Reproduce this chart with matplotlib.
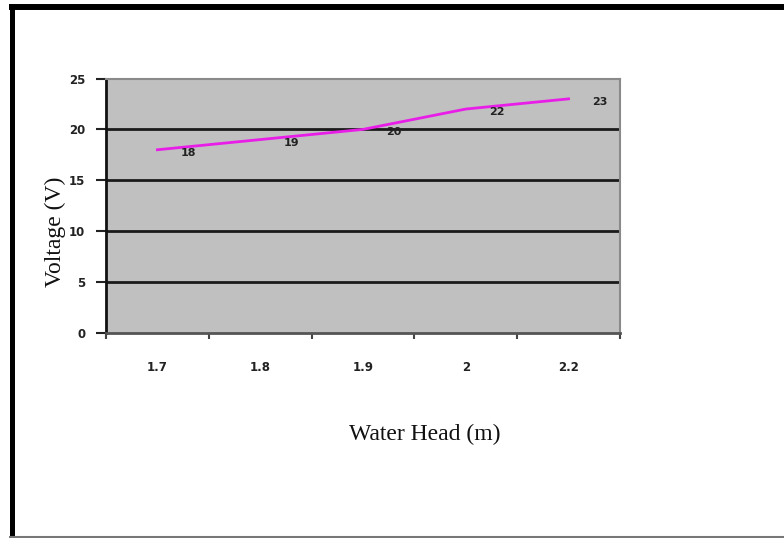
import numpy as np
import matplotlib
matplotlib.use("Agg")
import matplotlib.pyplot as plt
from matplotlib.lines import Line2D

# data
heads = ["1.7", "1.8", "1.9", "2", "2.2"]
voltage = [18, 19, 20, 22, 23]
y_ticks = [0, 5, 10, 15, 20, 25]

fig = plt.figure(figsize=(7.84, 5.38), dpi=100)
fig.patch.set_facecolor("white")

W, H = 784, 538
ax = fig.add_axes([106 / W, (H - 333) / H, (620 - 106) / W, (333 - 78.5) / H])
ax.set_facecolor("#c0c0c0")

x = np.arange(len(heads))
ax.plot(x, voltage, color="#e81ee8", linewidth=2, zorder=3)

for xi, v in zip(x, voltage):
    ax.annotate(str(v), (xi, v), xytext=(31, -3), textcoords="offset pixels",
                ha="center", va="center", fontsize=8, fontweight="bold",
                color="#222222", zorder=4)

ax.set_xlim(-0.5, len(heads) - 0.5)
ax.set_ylim(0, 25)

# category labels in the middle, tick marks on the boundaries
ax.set_xticks(x)
ax.set_xticklabels(heads, fontsize=8.5, fontweight="bold", color="#222222")
ax.tick_params(axis="x", which="major", length=0, pad=20)
ax.set_xticks(np.arange(-0.5, len(heads)), minor=True)
ax.tick_params(axis="x", which="minor", length=4, width=1.5, color="#444444", direction="out")

ax.set_yticks(y_ticks)
ax.set_yticklabels([str(t) for t in y_ticks], fontsize=8.5, fontweight="bold", color="#222222")
ax.tick_params(axis="y", length=7, width=1.5, color="#222222", pad=8)

for t in y_ticks[1:-1]:
    ax.axhline(t, color="#1a1a1a", linewidth=2, zorder=2)

for side in ["top", "right"]:
    ax.spines[side].set_color("#8a8a8a")
    ax.spines[side].set_linewidth(1.5)
ax.spines["left"].set_color("#111111")
ax.spines["left"].set_linewidth(2)
ax.spines["bottom"].set_color("#555555")
ax.spines["bottom"].set_linewidth(2)

fig.text(425 / W, 1 - 434 / H, "Water Head (m)", ha="center", va="center",
         fontsize=17, family="Liberation Serif", color="#111111")
fig.text(55 / W, 1 - 232 / H, "Voltage (V)", ha="center", va="center",
         rotation=90, fontsize=17, family="Liberation Serif", color="#111111")

# outer frame: thick black on the left and top, thin grey at the bottom
fig.add_artist(Line2D([11.5 / W, 11.5 / W], [0, 1 - 4 / H], color="black",
                      linewidth=3.6, solid_capstyle="butt", transform=fig.transFigure))
fig.add_artist(Line2D([9 / W, 1], [1 - 7 / H, 1 - 7 / H], color="black",
                      linewidth=4.3, solid_capstyle="butt", transform=fig.transFigure))
fig.add_artist(Line2D([9 / W, 1], [1 - 536.5 / H, 1 - 536.5 / H], color="#777777",
                      linewidth=1.5, solid_capstyle="butt", transform=fig.transFigure))

fig.savefig("out.png", dpi=100)
